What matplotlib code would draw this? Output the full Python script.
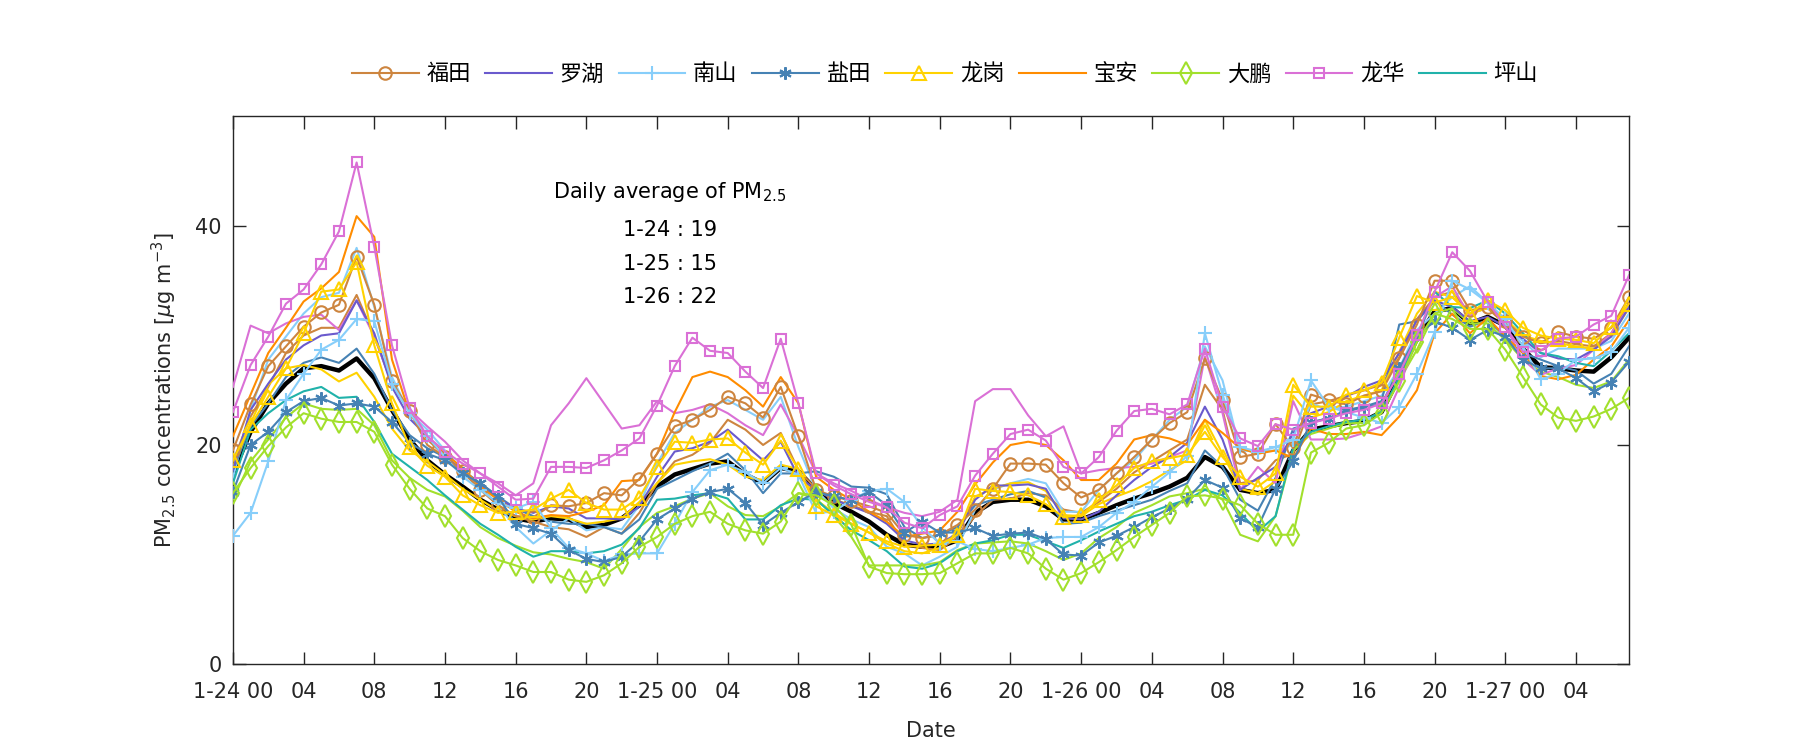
import numpy as np
import matplotlib
matplotlib.use("Agg")
import matplotlib.pyplot as plt

plt.rcParams['font.family'] = ['DejaVu Sans', 'Noto Sans CJK SC']
plt.rcParams['mathtext.fontset'] = 'dejavusans'
plt.rcParams['axes.unicode_minus'] = False

# hourly values, 1-24 00 .. 1-27 07
hours = np.arange(80)

futian = [19.5, 23.7, 27.2, 29.0, 30.8, 32.1, 32.8, 37.2, 32.8, 25.8,
          23.1, 20.0, 18.9, 17.6, 15.9, 14.5, 13.5, 13.4, 14.5, 14.4,
          14.7, 15.6, 15.4, 16.9, 19.2, 21.7, 22.3, 23.2, 24.4, 23.8,
          22.5, 25.3, 20.8, 15.9, 15.3, 14.9, 14.4, 13.8, 11.8, 11.5,
          11.8, 12.7, 14.1, 16.0, 18.3, 18.3, 18.2, 16.5, 15.2, 15.9,
          17.4, 18.9, 20.5, 22.0, 23.0, 27.9, 24.1, 18.9, 19.2, 21.9,
          19.7, 24.6, 24.1, 23.7, 24.5, 24.9, 27.9, 31.0, 35.0, 35.0,
          32.3, 32.6, 31.3, 29.9, 29.3, 30.3, 29.9, 29.7, 30.7, 33.5]
futian_b = [18.5, 22.6, 25.3, 28.4, 30.0, 30.7, 30.7, 33.7, 29.9, 25.6,
            23.0, 20.5, 19.0, 17.5, 16.0, 14.5, 13.5, 13.0, 12.5, 12.3,
            11.6, 12.5, 11.9, 13.8, 16.5, 18.5, 19.1, 20.2, 22.3, 21.4,
            20.0, 21.1, 17.7, 16.0, 15.0, 14.5, 13.9, 13.5, 10.9, 10.6,
            10.4, 11.6, 13.5, 15.0, 15.1, 15.6, 15.4, 14.1, 13.8, 14.8,
            16.0, 17.5, 18.5, 19.5, 20.5, 25.5, 23.2, 16.5, 16.8, 18.6,
            19.2, 23.7, 24.0, 24.5, 25.0, 25.5, 28.0, 31.5, 33.5, 34.0,
            32.0, 32.5, 31.0, 30.0, 29.3, 29.5, 29.2, 29.0, 30.2, 33.0]
luohu = [17.7, 23.2, 25.6, 27.8, 29.1, 30.0, 30.2, 33.2, 30.2, 25.3,
         22.4, 20.8, 18.9, 17.7, 16.3, 15.1, 14.2, 13.8, 14.4, 14.2,
         13.3, 13.3, 13.2, 14.4, 17.1, 19.4, 19.7, 20.3, 21.4, 20.0,
         18.6, 20.3, 17.1, 15.9, 15.0, 14.4, 13.8, 12.8, 11.3, 10.9,
         11.0, 11.9, 15.0, 16.3, 16.3, 16.4, 16.0, 13.3, 13.2, 13.9,
         15.4, 16.8, 18.0, 18.9, 20.2, 23.5, 20.5, 15.9, 17.0, 18.0,
         21.1, 22.9, 23.5, 24.4, 25.3, 25.9, 28.4, 31.4, 33.2, 32.6,
         31.3, 31.7, 30.8, 29.7, 28.4, 27.9, 27.8, 28.7, 29.9, 32.6]
nanshan = [11.7, 13.8, 18.5, 24.1, 26.5, 28.7, 29.6, 31.5, 31.3, 25.6,
           22.9, 20.8, 18.9, 17.1, 15.9, 14.7, 14.2, 14.8, 12.4, 10.6,
           10.1, 9.4, 10.0, 10.1, 10.1, 12.8, 15.7, 17.7, 18.2, 17.5,
           16.5, 17.9, 17.3, 13.8, 13.9, 15.0, 15.8, 16.0, 14.8, 12.5,
           11.0, 11.2, 10.5, 10.3, 10.6, 10.9, 11.5, 11.6, 11.6, 12.5,
           13.8, 14.8, 16.2, 17.5, 19.0, 30.2, 24.6, 19.8, 19.4, 19.8,
           20.5, 25.9, 23.5, 23.0, 22.5, 22.0, 23.5, 26.5, 30.3, 35.0,
           34.2, 33.0, 31.5, 29.0, 26.0, 26.5, 27.8, 27.9, 28.5, 30.7]
nanshan_b = [17.0, 23.2, 27.8, 29.9, 32.0, 33.5, 33.9, 38.0, 32.6, 26.2,
             22.9, 21.4, 19.5, 17.7, 16.2, 14.5, 12.5, 11.0, 12.2, 13.3,
             12.2, 12.5, 12.3, 14.5, 18.3, 21.1, 22.3, 23.5, 24.1, 23.2,
             22.3, 24.4, 19.8, 15.9, 14.2, 13.2, 12.5, 10.7, 10.1, 9.0,
             9.8, 10.7, 14.1, 15.9, 16.5, 16.9, 16.5, 13.9, 13.9, 15.9,
             17.4, 18.6, 20.5, 22.3, 23.5, 29.0, 25.9, 19.5, 19.4, 19.5,
             20.0, 23.8, 23.2, 23.5, 24.0, 24.5, 27.0, 30.5, 32.0, 33.5,
             34.5, 33.0, 31.0, 29.5, 28.0, 28.8, 28.8, 28.8, 29.5, 32.0]
yantian = [15.7, 20.0, 21.2, 23.0, 24.0, 24.3, 23.6, 23.8, 23.5, 22.1,
           20.2, 19.2, 18.6, 17.4, 16.5, 15.3, 12.8, 12.4, 11.9, 10.4,
           9.6, 9.3, 9.8, 11.2, 13.2, 14.2, 15.1, 15.7, 16.0, 14.7,
           12.7, 13.8, 14.8, 15.7, 15.3, 15.0, 15.7, 14.5, 12.0, 13.0,
           12.0, 12.0, 12.4, 11.7, 11.9, 12.0, 11.4, 10.0, 9.9, 11.1,
           11.7, 12.5, 13.4, 14.2, 15.1, 16.8, 16.1, 13.3, 12.5, 16.0,
           18.5, 22.1, 22.4, 23.2, 23.5, 23.7, 27.0, 30.0, 31.3, 30.7,
           29.6, 30.5, 29.9, 27.8, 27.0, 27.0, 26.1, 24.9, 25.7, 27.6]
yantian_b = [17.7, 21.7, 23.8, 26.2, 27.5, 28.0, 27.5, 28.8, 26.5, 23.2,
             20.9, 19.7, 18.9, 17.7, 16.5, 15.3, 14.2, 13.5, 13.0, 12.8,
             12.8, 12.5, 11.9, 13.2, 16.0, 16.8, 17.6, 18.3, 19.2, 17.7,
             15.6, 17.4, 17.4, 17.6, 17.1, 16.2, 16.1, 15.5, 12.5, 11.5,
             11.8, 12.5, 14.5, 15.0, 15.5, 15.8, 15.2, 12.8, 12.9, 13.5,
             14.0, 14.5, 15.0, 15.8, 16.5, 19.5, 18.0, 15.0, 14.0, 17.0,
             21.5, 22.0, 22.5, 23.0, 23.5, 24.0, 31.0, 31.3, 33.2, 31.9,
             30.8, 31.4, 29.9, 28.4, 27.8, 27.2, 26.8, 25.6, 26.5, 29.0]
longgang = [18.6, 21.8, 24.4, 27.0, 30.2, 34.0, 34.2, 36.7, 29.1, 23.8,
            19.8, 18.1, 17.1, 15.4, 14.5, 13.8, 13.9, 14.1, 15.1, 15.9,
            14.7, 14.1, 14.1, 15.2, 18.0, 20.3, 20.2, 20.5, 20.6, 19.3,
            18.2, 20.4, 17.8, 14.4, 13.6, 12.8, 12.0, 11.2, 10.7, 10.8,
            10.9, 11.8, 16.0, 15.8, 15.7, 15.4, 14.6, 13.4, 13.6, 15.0,
            16.3, 17.9, 18.5, 18.8, 19.1, 21.2, 18.9, 17.1, 16.2, 17.4,
            25.5, 23.5, 23.5, 24.6, 25.0, 25.7, 29.8, 33.6, 33.0, 33.5,
            32.0, 33.2, 32.3, 30.7, 30.0, 29.7, 29.6, 29.3, 30.8, 32.9]
longgang_b = [18.0, 22.0, 25.5, 27.0, 27.3, 26.9, 25.8, 26.6, 24.4, 21.5,
              19.5, 18.5, 17.3, 16.0, 15.0, 14.0, 13.5, 13.2, 13.5, 13.3,
              12.8, 13.0, 13.3, 14.8, 16.5, 18.2, 18.5, 18.7, 18.2, 17.1,
              16.8, 18.2, 17.8, 15.0, 13.8, 12.8, 12.0, 11.0, 10.3, 10.1,
              10.6, 11.9, 15.3, 16.0, 16.5, 16.6, 15.8, 13.6, 13.5, 14.6,
              15.3, 15.9, 16.7, 17.7, 18.6, 22.3, 19.2, 16.0, 15.6, 16.7,
              24.5, 22.5, 23.0, 24.0, 24.5, 25.0, 28.5, 32.0, 34.0, 33.5,
              32.0, 32.5, 31.5, 30.0, 29.5, 29.3, 29.0, 28.8, 30.0, 32.5]
baoan = [20.8, 24.6, 28.4, 30.7, 33.1, 34.3, 35.8, 40.9, 39.0, 27.8,
         22.9, 20.8, 19.2, 17.9, 16.2, 15.0, 13.9, 13.3, 13.6, 13.5,
         13.9, 14.5, 16.7, 16.8, 19.2, 23.0, 26.2, 26.7, 26.2, 25.0,
         23.5, 26.2, 23.8, 17.1, 15.9, 15.0, 13.9, 13.0, 11.6, 11.9,
         12.2, 13.9, 16.4, 18.4, 20.0, 20.3, 20.0, 18.6, 16.8, 16.8,
         18.3, 20.5, 20.9, 20.6, 20.0, 22.3, 21.1, 19.7, 19.2, 19.5,
         18.8, 21.5, 21.0, 21.0, 21.2, 20.9, 22.6, 25.0, 30.2, 32.0,
         30.2, 31.6, 29.9, 28.4, 26.3, 26.0, 26.4, 27.8, 29.0, 31.4]
dapeng = [15.6, 17.9, 19.9, 21.6, 22.9, 22.4, 22.1, 22.1, 21.2, 18.2,
          16.0, 14.2, 13.5, 11.5, 10.3, 9.5, 9.0, 8.4, 8.4, 7.7,
          7.5, 8.1, 9.2, 10.7, 11.6, 12.8, 13.5, 13.9, 12.8, 12.2,
          11.9, 13.0, 15.6, 15.4, 14.5, 12.7, 8.9, 8.3, 8.2, 8.2,
          8.3, 9.2, 10.1, 10.1, 10.6, 10.1, 8.7, 7.7, 8.3, 9.3,
          10.4, 11.6, 12.7, 13.8, 15.3, 15.4, 15.1, 14.5, 12.8, 11.8,
          11.8, 19.3, 20.2, 21.5, 21.8, 22.9, 25.8, 29.4, 32.0, 31.5,
          30.6, 30.6, 28.7, 26.2, 23.7, 22.5, 22.2, 22.6, 23.3, 24.3]
dapeng_b = [15.0, 18.5, 20.5, 22.5, 23.8, 23.3, 23.2, 23.3, 21.8, 18.6,
            17.0, 15.9, 15.3, 14.0, 12.5, 11.5, 10.8, 10.2, 10.0, 9.6,
            9.3, 8.7, 10.5, 12.5, 13.8, 14.4, 15.1, 15.6, 14.4, 13.6,
            13.5, 14.4, 15.6, 15.1, 13.5, 11.6, 9.0, 9.0, 9.0, 9.0,
            9.3, 10.4, 11.0, 11.1, 11.2, 11.0, 10.3, 9.5, 10.1, 11.5,
            12.5, 13.8, 14.5, 15.3, 15.6, 16.0, 15.0, 11.8, 11.2, 13.5,
            19.5, 21.0, 21.5, 22.0, 22.0, 23.2, 25.9, 28.7, 32.0, 32.5,
            31.1, 31.1, 29.6, 27.8, 26.7, 26.2, 25.5, 25.2, 25.8, 27.8]
longhua = [23.0, 27.3, 29.9, 32.9, 34.2, 36.5, 39.5, 45.8, 38.1, 29.1,
           23.4, 20.8, 19.4, 18.3, 17.4, 16.2, 15.0, 15.1, 18.0, 18.0,
           17.9, 18.6, 19.5, 20.6, 23.6, 27.2, 29.8, 28.6, 28.4, 26.7,
           25.2, 29.7, 23.8, 17.4, 16.3, 15.5, 14.8, 14.3, 12.9, 12.4,
           13.6, 14.4, 17.2, 19.2, 21.0, 21.4, 20.4, 18.0, 17.4, 18.9,
           21.3, 23.1, 23.3, 22.8, 23.7, 28.8, 23.5, 20.6, 19.9, 21.9,
           21.4, 22.0, 22.4, 22.9, 23.2, 23.8, 26.5, 30.0, 34.0, 37.6,
           35.9, 33.1, 30.8, 28.5, 28.6, 29.7, 29.9, 31.0, 31.8, 35.5]
longhua_b = [25.3, 30.9, 30.2, 31.1, 31.7, 31.9, 30.5, 33.2, 29.9, 25.6,
             23.2, 21.7, 20.3, 18.6, 17.4, 16.5, 15.4, 16.5, 21.8, 23.8,
             26.1, 23.8, 21.5, 21.8, 24.0, 22.9, 23.2, 23.7, 22.9, 21.8,
             20.9, 23.7, 20.8, 17.4, 16.5, 15.8, 15.0, 14.3, 13.8, 13.5,
             13.9, 15.0, 24.0, 25.1, 25.1, 22.7, 20.8, 21.7, 17.4, 17.7,
             17.9, 18.0, 18.3, 18.9, 19.5, 28.1, 22.9, 15.9, 18.0, 16.5,
             24.0, 20.5, 20.5, 20.6, 21.1, 21.7, 25.3, 29.9, 33.5, 34.5,
             31.7, 33.2, 30.8, 27.8, 26.4, 27.0, 27.3, 28.7, 30.2, 32.6]
pingshan = [16.5, 21.4, 22.9, 24.1, 24.9, 25.3, 24.3, 24.4, 22.1, 19.2,
            18.0, 16.8, 15.4, 14.1, 12.8, 11.8, 10.7, 9.8, 10.3, 10.3,
            10.1, 10.3, 10.9, 12.4, 15.0, 15.1, 15.4, 15.6, 15.1, 13.2,
            13.2, 14.5, 15.1, 15.0, 13.6, 12.2, 11.3, 10.3, 8.9, 8.7,
            9.2, 10.3, 11.0, 11.3, 11.8, 11.8, 11.2, 10.6, 11.3, 12.1,
            12.8, 13.5, 13.9, 14.5, 15.0, 15.9, 15.4, 13.8, 12.1, 13.5,
            19.8, 21.2, 21.7, 22.1, 22.3, 23.0, 26.2, 29.7, 34.0, 32.6,
            32.5, 33.2, 32.0, 30.2, 28.4, 28.1, 27.5, 27.2, 28.6, 30.2]
mean_all = [17.4, 21.2, 23.8, 25.6, 27.0, 27.2, 26.8, 27.9, 26.1, 23.2,
            20.5, 18.6, 17.3, 16.2, 15.0, 14.1, 13.3, 13.0, 13.3, 13.2,
            12.5, 12.7, 13.3, 14.5, 16.2, 17.3, 17.8, 18.3, 18.5, 17.3,
            16.5, 17.9, 17.6, 15.9, 14.7, 13.9, 13.0, 11.8, 10.9, 10.7,
            10.7, 11.3, 13.8, 14.8, 15.0, 15.0, 14.4, 13.2, 13.2, 13.8,
            14.5, 15.1, 15.6, 16.2, 17.0, 18.9, 18.0, 15.9, 15.6, 15.9,
            19.5, 21.4, 21.7, 22.0, 22.2, 23.0, 26.2, 29.7, 32.2, 32.5,
            31.1, 31.7, 30.9, 28.8, 27.1, 27.0, 26.8, 26.7, 28.0, 29.8]

tick_pos = np.arange(0, 80, 4)
tick_labels = ['1-24 00', '04', '08', '12', '16', '20',
               '1-25 00', '04', '08', '12', '16', '20',
               '1-26 00', '04', '08', '12', '16', '20',
               '1-27 00', '04']
daily = ['1-24 : 19', '1-25 : 15', '1-26 : 22']

c_futian = '#CD853F'
c_luohu = '#6A5ACD'
c_nanshan = '#87CEFA'
c_yantian = '#4682B4'
c_longgang = '#FFD200'
c_baoan = '#FF8C00'
c_dapeng = '#A2E02C'
c_longhua = '#DA70D6'
c_pingshan = '#20B2AA'

fig = plt.figure(figsize=(18, 7.5), dpi=100)
ax = fig.add_axes([0.1294, 0.1147, 0.7756, 0.73])

lw = 1.5
mew = 1.5
# stations without legend entry
ax.plot(hours, mean_all, color='black', lw=3.2, zorder=2)
ax.plot(hours, futian_b, color=c_futian, lw=lw, zorder=3)
ax.plot(hours, nanshan_b, color=c_nanshan, lw=lw, zorder=3)
ax.plot(hours, yantian_b, color=c_yantian, lw=lw, zorder=3)
ax.plot(hours, longgang_b, color=c_longgang, lw=lw, zorder=3)
ax.plot(hours, dapeng_b, color=c_dapeng, lw=lw, zorder=3)
ax.plot(hours, longhua_b, color=c_longhua, lw=lw, zorder=3)

h = []
h += ax.plot(hours, futian, color=c_futian, lw=lw, marker='o', ms=9, mfc='none', mew=mew, label='福田', zorder=4)
h += ax.plot(hours, luohu, color=c_luohu, lw=lw, label='罗湖', zorder=3)
h += ax.plot(hours, nanshan, color=c_nanshan, lw=lw, marker='+', ms=10, mew=mew, label='南山', zorder=4)
h += ax.plot(hours, yantian, color=c_yantian, lw=lw, marker=(6, 2, 0), ms=9, mew=mew, label='盐田', zorder=4)
h += ax.plot(hours, longgang, color=c_longgang, lw=lw, marker='^', ms=10.5, mfc='none', mew=mew, label='龙岗', zorder=4)
h += ax.plot(hours, baoan, color=c_baoan, lw=lw, label='宝安', zorder=3)
h += ax.plot(hours, dapeng, color=c_dapeng, lw=lw, marker='d', ms=11, mfc='none', mew=mew, label='大鹏', zorder=4)
h += ax.plot(hours, longhua, color=c_longhua, lw=lw, marker='s', ms=6.5, mfc='none', mew=mew, label='龙华', zorder=4)
h += ax.plot(hours, pingshan, color=c_pingshan, lw=lw, label='坪山', zorder=3)

ax.set_xlim(0, 79)
ax.set_ylim(0, 50)
ax.set_xticks(tick_pos)
ax.set_xticklabels(tick_labels)
ax.set_yticks([0, 20, 40])

axis_col = '#262626'
for s in ax.spines.values():
    s.set_color(axis_col)
    s.set_linewidth(1.0)
ax.tick_params(direction='in', top=True, right=True, length=9, width=1.0,
               colors=axis_col, labelsize=15)
ax.tick_params(axis='x', pad=13)
ax.tick_params(axis='y', pad=8)

ax.set_xlabel('Date', fontsize=15, color=axis_col, labelpad=14)
ax.set_ylabel(r'PM$_{2.5}$ concentrations [$\mu$g m$^{-3}$]', fontsize=15,
              color=axis_col, labelpad=12)

ax.text(18.1, 43.1, r'Daily average of PM$_{2.5}$', fontsize=15, ha='left', va='center')
for i, s in enumerate(daily):
    ax.text(22.1, 39.6 - 3.05 * i, s, fontsize=15, ha='left', va='center')

ax.legend(handles=h, loc='center', bbox_to_anchor=(0.51, 1.078), ncol=9,
          frameon=False, fontsize=16, handlelength=3.0, handletextpad=0.35,
          columnspacing=0.65)

fig.savefig('out.png', dpi=100)
